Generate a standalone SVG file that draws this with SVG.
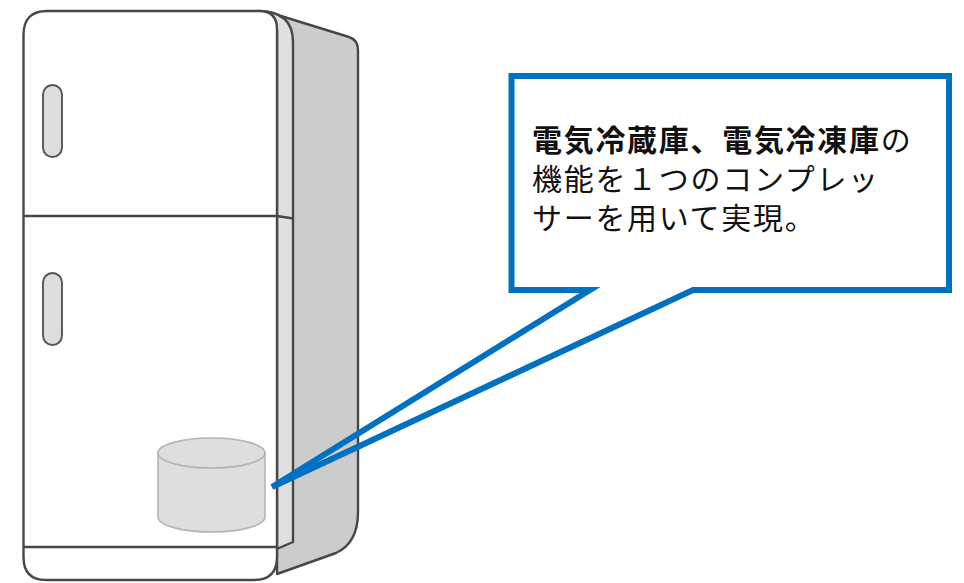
<svg xmlns="http://www.w3.org/2000/svg" width="964" height="583" viewBox="0 0 964 583">
  <style>
    .edge { stroke: #474747; stroke-width: 2.4; stroke-linejoin: round; }
    .handle { fill: #dddddd; stroke: #555555; stroke-width: 1.9; }
    .cyl { fill: #dedede; stroke: #b4b4b4; stroke-width: 1.6; }
    .callout { fill: none; stroke: #0070c0; stroke-width: 6; stroke-linejoin: miter; stroke-miterlimit: 4; }
    .txt { font-family: "Noto Sans CJK JP", "Noto Sans CJK SC", sans-serif; font-size: 30px; letter-spacing: 1.7px; fill: #111111; }
    .b { font-weight: bold; }
  </style>
  <rect width="964" height="583" fill="#ffffff"/>

  <!-- refrigerator body -->
  <g id="fridge">
    <!-- side panel -->
    <path class="edge" fill="#cccccc" d="M 268,12 L 349,37 Q 358,40 358,50 L 358,512 Q 358,543 336,553 L 277,574 L 277,30 Z"/>
    <!-- door edge strip -->
    <path class="edge" fill="#e0e0e0" d="M 258,11 Q 293,11 293,42 L 293,542 L 279,548 L 277,548 L 277,30 Z"/>
    <!-- front face -->
    <path class="edge" fill="#ffffff" d="M 47,11 L 259,11 Q 277,11 277,29 L 277,557 Q 277,580 254,580 L 46,580 Q 23.5,580 23.5,557 L 23.5,35 Q 23.5,11 47,11 Z"/>
    <!-- door splits -->
    <path class="edge" fill="none" d="M 23.5,216 L 277,216 L 293,218.5"/>
    <path class="edge" fill="none" d="M 23.5,547 L 277,547"/>
  </g>

  <g id="handle-upper">
    <rect class="handle" x="43" y="85" width="19" height="72" rx="9.5"/>
  </g>
  <g id="handle-lower">
    <rect class="handle" x="43" y="273" width="19" height="72" rx="9.5"/>
  </g>

  <!-- compressor -->
  <g id="compressor">
    <path class="cyl" d="M 158,453 L 158,517 A 53.5,15 0 0 0 265,517 L 265,453 Z"/>
    <ellipse class="cyl" cx="211.5" cy="453" rx="53.5" ry="15"/>
  </g>

  <!-- speech balloon with pointer -->
  <g id="callout">
    <path class="callout" d="M 693,290 L 949,290 L 949,76 L 511.5,76 L 511.5,290 L 590,290 L 272,487 Z"/>
    <text class="txt" x="532" y="151"><tspan class="b">電気冷蔵庫、電気冷凍庫</tspan>の</text>
    <text class="txt" x="532" y="190">機能を１つのコンプレッ</text>
    <text class="txt" x="532" y="229">サーを用いて実現。</text>
  </g>
</svg>
